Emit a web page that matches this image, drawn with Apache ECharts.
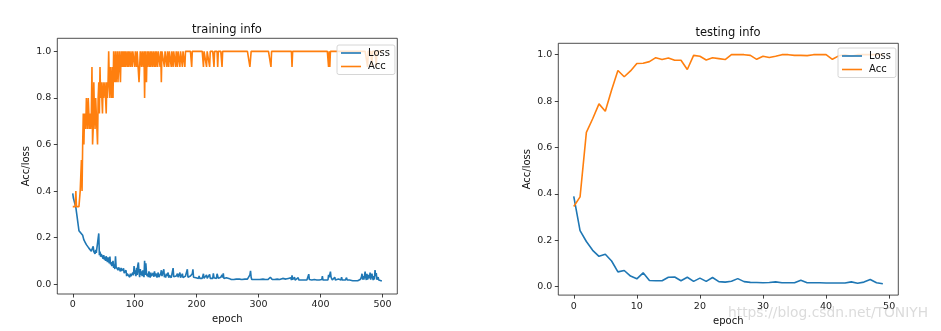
<!DOCTYPE html>
<html><head><meta charset="utf-8">
<script src="https://cdn.jsdelivr.net/npm/echarts@6/dist/echarts.min.js"></script>
<style>html,body{margin:0;padding:0;background:#fff}#c{width:941px;height:331px}</style>
</head><body><div id="c"></div>
<script>
const trainLoss = [
.39,.37,.36,.35,.34,.33,.31,.29,.27,.25,
.23,.225,.225,.22,.222,.215,.21,.2,.19,.185,
.18,.178,.17,.176,.165,.17,.155,.16,.147,.15,
.142,.15,.138,.163,.14,.145,.13,.148,.135,.14,
.128,.135,.218,.125,.14,.118,.13,.122,.135,.11,
.125,.105,.118,.1,.12,.108,.095,.115,.1,.09,
.119,.085,.095,.078,.09,.1,.07,.085,.065,.12,
.075,.068,.08,.06,.072,.065,.078,.055,.07,.058,
.062,.05,.068,.048,.055,.04,.06,.035,.045,.05,
.038,.042,.03,.045,.035,.04,.032,.05,.038,.078,
.045,.06,.035,.07,.04,.082,.093,.05,.03,.065,
.04,.055,.035,.06,.045,.03,.101,.04,.09,.05,
.035,.045,.03,.055,.04,.028,.05,.035,.042,.03,
.048,.032,.055,.035,.03,.045,.028,.04,.05,.03,
.038,.028,.045,.06,.035,.03,.042,.064,.03,.04,
.028,.045,.035,.03,.05,.028,.038,.032,.045,.028,
.035,.03,.069,.032,.028,.04,.03,.035,.028,.045,
.03,.028,.038,.05,.028,.032,.03,.045,.028,.035,
.03,.028,.035,.028,.04,.064,.03,.028,.032,.028,
.035,.028,.03,.045,.064,.03,.028,.025,.035,.028,
.025,.03,.028,.025,.035,.025,.028,.025,.03,.025,
.028,.045,.025,.028,.03,.025,.04,.025,.028,.025,
.03,.042,.025,.028,.025,.03,.025,.047,.028,.025,
.025,.03,.025,.045,.035,.025,.028,.025,.025,.03,
.025,.04,.028,.047,.025,.022,.025,.022,.028,.022,
.022,.02,.025,.022,.02,.022,.02,.025,.022,.026,
.02,.022,.02,.02,.022,.02,.025,.02,.02,.022,
.02,.02,.022,.02,.02,.025,.02,.02,.022,.02,
.02,.02,.022,.02,.025,.02,.04,.057,.03,.02,
.02,.022,.02,.02,.02,.022,.02,.025,.02,.02,
.02,.022,.02,.02,.025,.02,.02,.022,.02,.02,
.022,.02,.02,.02,.025,.02,.02,.022,.02,.03,
.036,.022,.02,.02,.02,.022,.02,.02,.02,.02,
.022,.02,.02,.025,.02,.02,.018,.02,.02,.025,
.02,.018,.02,.02,.022,.018,.02,.018,.025,.018,
.018,.02,.028,.018,.038,.02,.018,.018,.03,.018,
.018,.025,.018,.018,.028,.018,.018,.02,.018,.018,
.018,.022,.018,.018,.018,.02,.018,.018,.018,.025,
.018,.043,.02,.018,.018,.022,.018,.018,.018,.018,
.02,.018,.018,.025,.018,.018,.018,.02,.018,.018,
.018,.018,.02,.035,.018,.018,.018,.022,.018,.018,
.018,.025,.018,.04,.03,.022,.054,.03,.025,.018,
.02,.018,.022,.03,.018,.02,.025,.018,.018,.022,
.018,.018,.02,.018,.03,.018,.018,.02,.018,.018,
.018,.018,.028,.018,.018,.018,.02,.018,.015,.015,
.015,.016,.015,.015,.015,.016,.015,.015,.015,.016,
.015,.015,.016,.015,.02,.015,.03,.045,.02,.035,
.02,.015,.054,.03,.018,.045,.02,.015,.04,.025,
.05,.02,.015,.045,.03,.018,.035,.02,.061,.035,
.048,.02,.015,.03,.018,.015,.02,.016,.015,.014
];
const trainAcc = [
.333,.333,.333,.333,.333,.4,.333,.333,.333,.333,
.333,.333,.4,.4,.533,.4,.6,.733,.6,.733,
.733,.667,.8,.733,.667,.8,.733,.667,.733,.667,
.733,.933,.6,.667,.867,.733,.667,.8,.733,.667,
.6,.8,.867,.733,.933,.8,.867,.8,.733,.867,
.8,.8,.867,.8,.733,.867,.8,.867,1,.867,
.8,.933,.867,.8,.933,.8,1,.933,.867,1,
.867,.933,1,.867,.933,1,.933,.867,1,.933,
1,.933,1,.933,1,.933,1,1,.933,1,
.933,1,1,.933,1,1,.933,1,1,1,
.933,1,1,.933,1,1,1,.867,.933,1,
1,.933,1,1,.933,1,.8,1,.933,.867,
1,.933,1,1,.933,1,.933,1,1,.933,
1,1,.933,1,.933,1,1,.933,1,1,
1,.933,1,.867,1,1,1,1,.933,1,
1,1,.933,1,1,.933,1,1,1,.933,
1,1,.933,1,1,1,.933,1,1,.933,
1,1,1,.933,1,1,1,.933,1,1,
1,.933,1,1,1,1,1,1,1,1,
1,1,.933,1,1,1,1,1,1,1,
1,1,1,1,1,1,1,1,1,1,
1,.933,1,1,1,1,.933,1,1,1,
1,.933,1,1,1,1,1,1,.933,1,
1,1,1,1,.933,1,1,1,1,1,
1,.933,1,1,1,1,1,1,1,1,
1,1,1,1,1,1,1,1,1,1,
1,1,1,1,1,1,1,1,1,1,
1,1,1,1,1,1,1,1,1,1,
1,1,1,1,1,1,.933,.933,1,1,
1,1,1,1,1,1,1,1,1,1,
1,1,1,1,1,1,1,1,1,1,
1,1,1,1,1,1,1,1,1,1,
.933,1,1,1,1,1,1,1,1,1,
1,1,1,1,1,1,1,1,1,1,
1,1,1,1,1,1,1,1,1,1,
1,1,1,1,.933,1,1,1,1,1,
1,1,1,1,1,1,1,1,1,1,
1,1,1,1,1,1,1,1,1,1,
1,1,1,1,1,1,1,1,1,1,
1,1,1,1,1,1,1,1,1,1,
1,1,1,1,1,1,1,1,1,1,
1,1,1,.933,1,.933,1,1,1,1,
1,1,1,1,1,1,1,1,1,1,
1,1,1,1,1,1,1,1,1,1,
1,1,1,1,1,1,1,1,1,1,
1,1,1,1,1,1,1,1,1,1,
1,1,1,1,1,1,1,1,1,1,
1,1,1,1,1,1,.933,1,1,1,
1,1,1,.933,1,1,1,1,1,1,
.933,1,1,1,1,1,1,1,1,1
];
const testLoss = [
0.389,0.242,0.195,0.157,0.131,0.14,0.111,0.064,0.07,0.046,
0.034,0.06,0.027,0.026,0.026,0.041,0.042,0.026,0.041,0.023,
0.037,0.023,0.04,0.022,0.02,0.024,0.035,0.022,0.019,0.018,
0.017,0.018,0.021,0.017,0.017,0.017,0.028,0.017,0.017,0.017,
0.016,0.016,0.016,0.016,0.021,0.015,0.02,0.031,0.017,0.013
];
const testAcc = [
0.346,0.387,0.665,0.724,0.788,0.756,0.848,0.932,0.905,0.93,
0.962,0.963,0.97,0.987,0.979,0.986,0.976,0.976,0.936,0.997,
0.993,0.977,0.987,0.983,0.979,1.0,1.0,1.0,0.997,0.98,
0.993,0.988,0.993,1.0,1.0,0.997,0.997,0.996,1.0,1.0,
1.0,0.98,0.995,1.0,0.993,1.0,1.0,1.0,1.0,1.0
];
const trainXTicks = [0,100,200,300,400,500];
const testXTicks = [0,10,20,30,40,50];
const yTicks = [0,0.2,0.4,0.6,0.8,1.0];
const seriesNames = ['Loss','Acc'];
const titles = ['training info','testing info'];
const xName = 'epoch', yName = 'Acc/loss';
const watermark = 'https://blog.csdn.net/TONIYH';

const FONT = 'DejaVu Sans';
const C0 = '#1f77b4', C1 = '#ff7f0e';
const pairs = arr => arr.map((v,i)=>[i,v]);

function xAxis(gi, min, max, ticks, gap){
  return {type:'value', gridIndex:gi, min, max, name:xName, nameLocation:'middle', nameGap:gap,
    nameTextStyle:{fontFamily:FONT,fontSize:10,color:'#111'},
    axisLine:{show:false, onZero:false}, splitLine:{show:false},
    axisTick:{show:true, length:3.5, lineStyle:{color:'#111',width:0.8}, customValues:ticks},
    axisLabel:{fontFamily:FONT,fontSize:9.5,color:'#222',margin:6, customValues:ticks,
      formatter:v=>String(v)}};
}
function yAxis(gi, min, max, gap){
  return {type:'value', gridIndex:gi, min, max, name:yName, nameLocation:'middle', nameGap:gap, nameRotate:90,
    nameTextStyle:{fontFamily:FONT,fontSize:10,color:'#111'},
    axisLine:{show:false, onZero:false}, splitLine:{show:false},
    axisTick:{show:true, length:3.5, lineStyle:{color:'#111',width:0.8}, customValues:yTicks},
    axisLabel:{fontFamily:FONT,fontSize:9.5,color:'#222',margin:6, customValues:yTicks,
      formatter:v=>v.toFixed(1)}};
}
function line(name, data, gi, color){
  return {type:'line', name, data:pairs(data), xAxisIndex:gi, yAxisIndex:gi, symbol:'none',
    showSymbol:false, lineStyle:{color, width:1.6}, itemStyle:{color}, animation:false, z:2};
}
function legend(left, top){
  return {left, top, orient:'vertical', icon:'rect', itemWidth:20, itemHeight:1.6, itemGap:3.5,
    padding:[3,5,3,4], backgroundColor:'rgba(255,255,255,0.8)', borderColor:'#cccccc', borderWidth:0.8,
    borderRadius:2, textStyle:{fontFamily:FONT,fontSize:10,color:'#111', padding:[0,0,0,2]},
    data:seriesNames, selectedMode:false, z:10};
}

const chart = echarts.init(document.getElementById('c'), null, {renderer:'canvas'});
chart.setOption({
  animation:false,
  backgroundColor:'#fff',
  grid:[
    {left:57.3, top:38.3, width:340, height:255.7, show:true, borderColor:'#222', borderWidth:0.8, backgroundColor:'transparent'},
    {left:558.3, top:43.3, width:340, height:253.4, show:true, borderColor:'#222', borderWidth:0.8, backgroundColor:'transparent'}
  ],
  xAxis:[xAxis(0,-24.95,523.95,trainXTicks,16.5), xAxis(1,-2.45,51.45,testXTicks,18)],
  yAxis:[yAxis(0,-0.042,1.056,26), yAxis(1,-0.036,1.049,26)],
  legend:[legend(337,45), legend(838,48)],
  series:[
    line(seriesNames[0], trainLoss, 0, C0),
    line(seriesNames[1], trainAcc, 0, C1),
    line(seriesNames[0], testLoss, 1, C0),
    line(seriesNames[1], testAcc, 1, C1)
  ],
  graphic:[
    {type:'text', x:227, y:30, style:{text:titles[0], fontFamily:FONT, fontSize:11.5, fill:'#111', textAlign:'center', textVerticalAlign:'middle'}},
    {type:'text', x:728, y:33, style:{text:titles[1], fontFamily:FONT, fontSize:11.5, fill:'#111', textAlign:'center', textVerticalAlign:'middle'}},
    {type:'text', x:728, y:313, z:100, style:{text:watermark, fontFamily:FONT, fontSize:13.8, fill:'rgba(175,175,175,0.45)', textAlign:'left', textVerticalAlign:'middle'}}
  ]
});
</script></body></html>
